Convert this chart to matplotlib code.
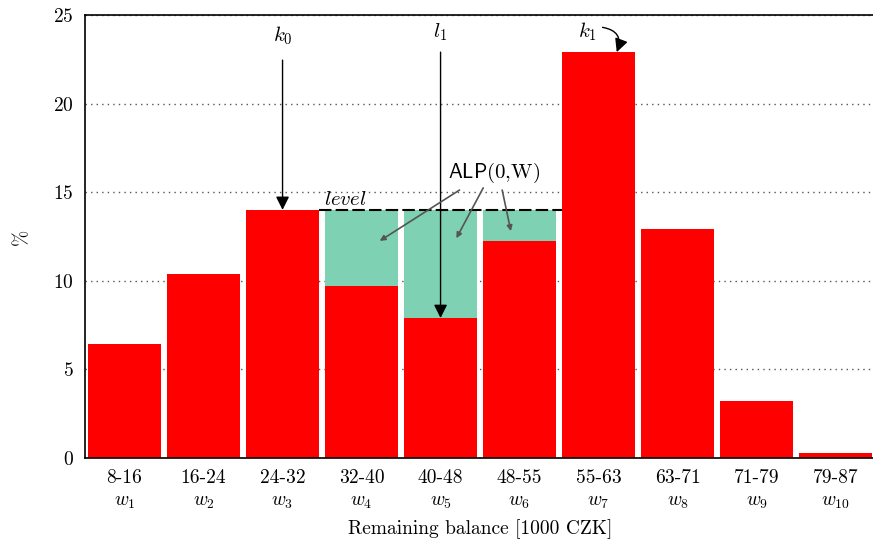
import numpy as np
import matplotlib
matplotlib.use('Agg')
import matplotlib.pyplot as plt

plt.rcParams['font.family'] = 'serif'
plt.rcParams['font.serif'] = ['cmr10']
plt.rcParams['mathtext.fontset'] = 'cm'
plt.rcParams['axes.formatter.use_mathtext'] = True

ranges = ['8-16', '16-24', '24-32', '32-40', '40-48', '48-55', '55-63', '63-71', '71-79', '79-87']
values = [6.45, 10.4, 14.0, 9.7, 7.9, 12.25, 22.9, 12.9, 3.2, 0.3]
level = 14.0
filled = [3, 4, 5]   # bins topped up to level

fig = plt.figure(figsize=(8.73, 5.43), dpi=100)
ax = fig.add_axes([0.0974, 0.1565, 0.905, 0.816])

x = np.arange(len(values))
ax.bar(x, values, width=0.92, color='#ff0000', zorder=2)
for i in filled:
	ax.bar(i, level - values[i], bottom=values[i], width=0.92, color='#7fd1b3', zorder=2)

ax.hlines(level, 2.46, 5.54, colors='k', linestyles=(0, (6, 2)), linewidth=1.5, zorder=3)
ax.text(2.52, level + 0.05, '$level$', fontsize=15, ha='left', va='bottom')

# k0 and l1 arrows
ax.text(2, 23.8, '$k_0$', fontsize=15, ha='center', va='center')
ax.annotate('', xy=(2, values[2]), xytext=(2, 22.45),
	arrowprops=dict(arrowstyle='-|>', color='k', lw=1, mutation_scale=20, shrinkA=0, shrinkB=0), zorder=4)
ax.text(4, 24.05, '$l_1$', fontsize=15, ha='center', va='center')
ax.annotate('', xy=(4, values[4]), xytext=(4, 22.9),
	arrowprops=dict(arrowstyle='-|>', color='k', lw=1, mutation_scale=20, shrinkA=0, shrinkB=0), zorder=4)

# k1 curved arrow
ax.text(5.86, 24.05, '$k_1$', fontsize=15, ha='center', va='center')
ax.annotate('', xy=(6.23, values[6]), xytext=(6.05, 24.3),
	arrowprops=dict(arrowstyle='-|>', color='k', lw=1, mutation_scale=20, shrinkA=0, shrinkB=0,
		connectionstyle='arc3,rad=-0.6'), zorder=4)

# ALP(0,W)
ax.text(4.68, 16.1, r'$\mathsf{ALP}$(0,W)', fontsize=15, ha='center', va='center')
alp_from = [(4.24, 15.12), (4.54, 15.24), (4.78, 15.12)]
alp_to = [(3.23, 12.25), (4.2, 12.4), (4.89, 12.8)]
for (x0, y0), (x1, y1) in zip(alp_from, alp_to):
	ax.annotate('', xy=(x1, y1), xytext=(x0, y0),
		arrowprops=dict(arrowstyle='-|>', color='#555555', lw=1.2, mutation_scale=8, shrinkA=0, shrinkB=0), zorder=4)

ax.set_xlim(-0.5, 9.5)
ax.set_ylim(0, 25)
ax.set_yticks([0, 5, 10, 15, 20, 25])
ax.set_xticks(x)
ax.set_xticklabels([r + '\n' + '$w_{%d}$' % (i + 1) for i, r in enumerate(ranges)], linespacing=1.35)
ax.tick_params(axis='both', length=0, labelsize=14, pad=8)
ax.yaxis.grid(True, linestyle=(0, (1, 3)), color='#555555', linewidth=1, zorder=0)
ax.set_axisbelow(True)
ax.spines['right'].set_visible(False)
for s in ['left', 'top', 'bottom']:
	ax.spines[s].set_linewidth(1.2)
ax.set_ylabel('%', fontsize=14, labelpad=16)
ax.set_xlabel('Remaining balance [1000 CZK]', fontsize=14, labelpad=6)

fig.savefig('out.png', dpi=100)
